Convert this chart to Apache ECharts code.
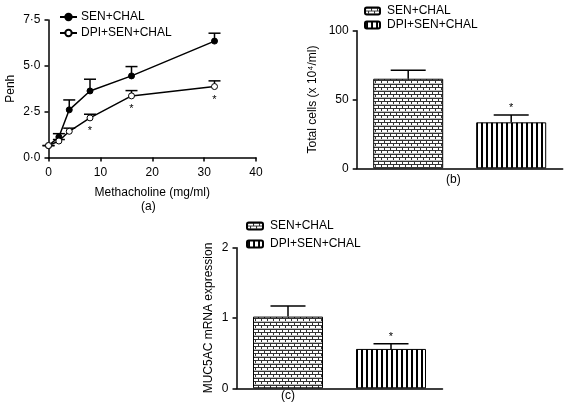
<!DOCTYPE html>
<html>
<head>
<meta charset="utf-8">
<script src="https://cdn.jsdelivr.net/npm/echarts@6/dist/echarts.min.js"></script>
<style>
html,body{margin:0;padding:0;background:#fff;}
#chart{width:566px;height:412px;}
</style>
</head>
<body>
<div id="chart"></div>
<script>
// ---- data (a) ----
const doseX = [0, 2, 4, 8, 16, 32];
const senChal = [0.65, 1.12, 2.6, 3.63, 4.45, 6.35];
const senChalErr = [0, 0.18, 0.54, 0.64, 0.51, 0.43];
const dpiSenChal = [0.65, 0.9, 1.43, 2.16, 3.36, 3.87];
const dpiSenChalErr = [0, 0.08, 0.17, 0.2, 0.29, 0.31];
const dpiStarIdx = [3, 4, 5];
const penhTicks = [0, 2.5, 5, 7.5];
// ---- data (b), (c) ----
const groups = ['SEN+CHAL', 'DPI+SEN+CHAL'];
const totalCells = [65.1, 33.4];
const totalCellsErr = [6.1, 5.3];
const muc5ac = [1.02, 0.56];
const muc5acErr = [0.15, 0.075];
const barStarIdx = [1];

function brickPattern() {
  const c = document.createElement('canvas');
  c.width = 6; c.height = 7;
  const g = c.getContext('2d');
  g.fillStyle = '#fff'; g.fillRect(0, 0, 6, 7);
  g.fillStyle = '#333';
  g.fillRect(0, 0, 6, 1);
  g.fillRect(0, 3, 6, 1);
  g.fillRect(0, 1, 1, 2);
  g.fillRect(3, 4, 1, 3);
  g.fillStyle = '#bbb';
  g.fillRect(0, 6, 6, 1);
  return c;
}
function stripePattern() {
  const c = document.createElement('canvas');
  c.width = 5; c.height = 4;
  const g = c.getContext('2d');
  g.fillStyle = '#fff'; g.fillRect(0, 0, 5, 4);
  g.fillStyle = '#000'; g.fillRect(1, 0, 2, 4);
  return c;
}
const brick = { image: brickPattern(), repeat: 'repeat' };
const stripe = { image: stripePattern(), repeat: 'repeat' };

const FONT = 'Liberation Sans, Arial, Helvetica, sans-serif';
const axisLine = { lineStyle: { color: '#000', width: 1.5 } };
const axisTick = { show: true, length: 4, lineStyle: { color: '#000', width: 1.5 } };
const axisLabel = { color: '#000', fontSize: 12, fontFamily: FONT, margin: 8 };
const nameStyle = { color: '#000', fontSize: 12, fontFamily: FONT };

function errRender(capHalf) {
  return function (params, api) {
    const x = api.value(0), y = api.value(1), e = api.value(2);
    const p0 = api.coord([x, y]);
    const p1 = api.coord([x, y + e]);
    return {
      type: 'group',
      children: [
        { type: 'line', shape: { x1: p0[0], y1: p0[1], x2: p1[0], y2: p1[1] }, style: { stroke: '#000', lineWidth: 1.5 } },
        { type: 'line', shape: { x1: p1[0] - capHalf, y1: p1[1], x2: p1[0] + capHalf, y2: p1[1] }, style: { stroke: '#000', lineWidth: 1.5 } }
      ]
    };
  };
}
function starRender(dy) {
  return function (params, api) {
    const p = api.coord([api.value(0), api.value(1)]);
    return { type: 'text', x: p[0], y: p[1] + dy, style: { text: '*', fill: '#000', font: '11px ' + FONT, align: 'center', verticalAlign: 'middle' } };
  };
}

const lineSen = doseX.map((x, i) => [x, senChal[i]]);
const lineDpi = doseX.map((x, i) => [x, dpiSenChal[i]]);
const errSen = doseX.map((x, i) => [x, senChal[i], senChalErr[i]]);
const errDpi = doseX.map((x, i) => [x, dpiSenChal[i], dpiSenChalErr[i]]);
const starsA = dpiStarIdx.map(i => [doseX[i], dpiSenChal[i]]);

const errB = groups.map((g, i) => [i, totalCells[i], totalCellsErr[i]]);
const errC = groups.map((g, i) => [i, muc5ac[i], muc5acErr[i]]);
const starsB = barStarIdx.map(i => [i, totalCells[i] + totalCellsErr[i]]);
const starsC = barStarIdx.map(i => [i, muc5ac[i] + muc5acErr[i]]);

const chart = echarts.init(document.getElementById('chart'), null, { renderer: 'canvas' });
const option = {
  backgroundColor: '#fff',
  animation: false,
  textStyle: { fontFamily: FONT },
  grid: [
    { left: 48.5, top: 20, width: 207.5, height: 137.5 },
    { left: 356.7, top: 30.7, width: 206, height: 137.6 },
    { left: 236.5, top: 247.7, width: 206, height: 140.6 }
  ],
  xAxis: [
    { gridIndex: 0, type: 'value', min: 0, max: 40, interval: 10, axisLine, axisTick, axisLabel: Object.assign({}, axisLabel, { margin: 9 }), splitLine: { show: false },
      name: 'Methacholine (mg/ml)', nameLocation: 'middle', nameGap: 29, nameTextStyle: nameStyle },
    { gridIndex: 1, type: 'category', data: groups, axisLine, axisTick: { show: false }, axisLabel: { show: false } },
    { gridIndex: 2, type: 'category', data: groups, axisLine, axisTick: { show: false }, axisLabel: { show: false } }
  ],
  yAxis: [
    { gridIndex: 0, type: 'value', min: 0, max: 7.5, interval: 2.5, axisLine: Object.assign({ show: true }, axisLine), axisTick, splitLine: { show: false },
      axisLabel: Object.assign({}, axisLabel, { formatter: v => v.toFixed(1).replace('.', '·') }),
      name: 'Penh', nameLocation: 'middle', nameGap: 32, nameTextStyle: nameStyle },
    { gridIndex: 1, type: 'value', min: 0, max: 100, interval: 50, axisLine: Object.assign({ show: true }, axisLine), axisTick, splitLine: { show: false }, axisLabel,
      name: 'Total cells (x 10⁴/ml)', nameLocation: 'middle', nameGap: 38, nameTextStyle: nameStyle },
    { gridIndex: 2, type: 'value', min: 0, max: 2, interval: 1, axisLine: Object.assign({ show: true }, axisLine), axisTick, splitLine: { show: false }, axisLabel,
      name: 'MUC5AC mRNA expression', nameLocation: 'middle', nameGap: 22, nameTextStyle: nameStyle }
  ],
  legend: [
    { data: ['SEN+CHAL', 'DPI+SEN+CHAL'], orient: 'vertical', left: 54, top: 6, itemWidth: 17, itemHeight: 8, itemGap: 4,
      textStyle: { color: '#000', fontSize: 12, fontFamily: FONT, padding: [0, 0, 0, -1] } },
    { data: ['SEN+CHAL ', 'DPI+SEN+CHAL '], orient: 'vertical', left: 359, top: 0, itemWidth: 15, itemHeight: 7, itemGap: 2,
      formatter: n => n.trim(), textStyle: { color: '#000', fontSize: 12, fontFamily: FONT, padding: [0, 0, 0, 2] } },
    { data: ['SEN+CHAL  ', 'DPI+SEN+CHAL  '], orient: 'vertical', left: 241, top: 215, itemWidth: 16, itemHeight: 7, itemGap: 6,
      formatter: n => n.trim(), textStyle: { color: '#000', fontSize: 12, fontFamily: FONT, padding: [0, 0, 0, 2] } }
  ],
  graphic: [
    { type: 'text', left: 141, top: 201, style: { text: '(a)', font: '12px ' + FONT, fill: '#000' } },
    { type: 'text', left: 446, top: 174, style: { text: '(b)', font: '12px ' + FONT, fill: '#000' } },
    { type: 'text', left: 281, top: 390, style: { text: '(c)', font: '12px ' + FONT, fill: '#000' } }
  ],
  series: [
    { type: 'custom', xAxisIndex: 0, yAxisIndex: 0, renderItem: errRender(6), data: errSen, z: 1, silent: true },
    { type: 'custom', xAxisIndex: 0, yAxisIndex: 0, renderItem: errRender(6), data: errDpi, z: 1, silent: true },
    { name: 'SEN+CHAL', type: 'line', xAxisIndex: 0, yAxisIndex: 0, data: lineSen, symbol: 'circle', symbolSize: 6,
      lineStyle: { color: '#000', width: 1.5 }, itemStyle: { color: '#000', borderColor: '#000', borderWidth: 1 }, z: 3 },
    { name: 'DPI+SEN+CHAL', type: 'line', xAxisIndex: 0, yAxisIndex: 0, data: lineDpi, symbol: 'circle', symbolSize: 6,
      lineStyle: { color: '#000', width: 1.5 }, itemStyle: { color: '#fff', borderColor: '#000', borderWidth: 1 }, z: 3 },
    { type: 'custom', xAxisIndex: 0, yAxisIndex: 0, renderItem: starRender(13), data: starsA, z: 4, silent: true },

    { name: 'SEN+CHAL ', type: 'bar', xAxisIndex: 1, yAxisIndex: 1, data: [totalCells[0], '-'], barWidth: 70, barGap: '-100%',
      itemStyle: { color: brick, borderColor: '#000', borderWidth: 1 } },
    { name: 'DPI+SEN+CHAL ', type: 'bar', xAxisIndex: 1, yAxisIndex: 1, data: ['-', totalCells[1]], barWidth: 70, barGap: '-100%',
      itemStyle: { color: stripe, borderColor: '#000', borderWidth: 1 } },
    { type: 'custom', xAxisIndex: 1, yAxisIndex: 1, renderItem: errRender(17.5), data: errB, z: 1, silent: true },
    { type: 'custom', xAxisIndex: 1, yAxisIndex: 1, renderItem: starRender(-7), data: starsB, z: 4, silent: true },

    { name: 'SEN+CHAL  ', type: 'bar', xAxisIndex: 2, yAxisIndex: 2, data: [muc5ac[0], '-'], barWidth: 70, barGap: '-100%',
      itemStyle: { color: brick, borderColor: '#000', borderWidth: 1 } },
    { name: 'DPI+SEN+CHAL  ', type: 'bar', xAxisIndex: 2, yAxisIndex: 2, data: ['-', muc5ac[1]], barWidth: 70, barGap: '-100%',
      itemStyle: { color: stripe, borderColor: '#000', borderWidth: 1 } },
    { type: 'custom', xAxisIndex: 2, yAxisIndex: 2, renderItem: errRender(17.5), data: errC, z: 1, silent: true },
    { type: 'custom', xAxisIndex: 2, yAxisIndex: 2, renderItem: starRender(-7), data: starsC, z: 4, silent: true }
  ]
};
chart.setOption(option);
</script>
</body>
</html>
